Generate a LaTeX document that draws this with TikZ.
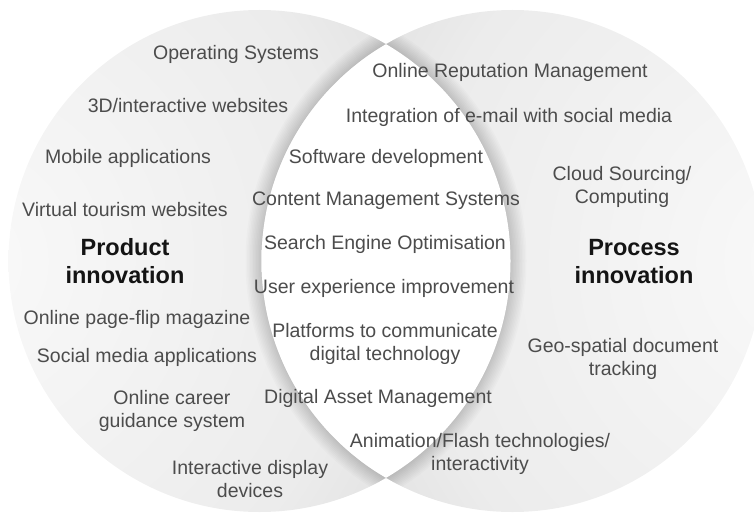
\documentclass[tikz,border=0pt]{standalone}
\usepackage{fontspec}
\setmainfont{Liberation Sans}
\definecolor{itemcol}{HTML}{4C4C4C}
\definecolor{titlecol}{HTML}{141414}
\definecolor{sa}{gray}{0.98}
\definecolor{sb}{gray}{0.965}
\definecolor{sc}{gray}{0.925}
\definecolor{sd}{gray}{0.85}
\definecolor{se}{gray}{0.78}
\definecolor{sf}{gray}{0.67}
\definecolor{sg}{gray}{0.60}
\pgfdeclareradialshading{crescent}{\pgfpoint{0bp}{0bp}}{color(0bp)=(sa); color(4.5bp)=(sb); color(17.9bp)=(sc); color(26.8bp)=(sd); color(34.8bp)=(se); color(42bp)=(sf); color(50bp)=(sg)}
\begin{document}
\begin{tikzpicture}[x=1pt,y=-1pt,
  item/.style={text=itemcol, font=\fontsize{19.5}{23.5}\selectfont, align=center, inner sep=0pt},
  title/.style={text=titlecol, font=\bfseries\fontsize{23.5}{28}\selectfont, align=center, inner sep=0pt},
  lensshadow/.style={black, opacity=0.016}]
\useasboundingbox (0,0) rectangle (754,513);
\clip (0,0) rectangle (754,513);
\coordinate (CL) at (259.5,261);
\coordinate (CR) at (512.5,261);
\begin{scope}
  \clip (CL) circle[radius=251pt];
  \shade[shading=crescent] (-41.5,261) circle[radius=560pt];
  \foreach \w in {32,29,...,2} \draw[lensshadow, line width=\w pt] (CR) circle[radius=251pt];
\end{scope}
\begin{scope}
  \clip (CR) circle[radius=251pt];
  \shade[shading=crescent] (813.5,261) circle[radius=560pt];
  \foreach \w in {32,29,...,2} \draw[lensshadow, line width=\w pt] (CL) circle[radius=251pt];
\end{scope}
\begin{scope}
  \clip (CL) circle[radius=251pt];
  \fill[white] (CR) circle[radius=251pt];
\end{scope}

\node[title] (prod) at (125,261) {Product\\innovation};
\node[title] (proc) at (634,262) {Process\\innovation};

\node[item] (os) at (236,54) {Operating Systems};
\node[item] (web3d) at (188,106) {3D/interactive websites};
\node[item] (mob) at (128,158) {Mobile applications};
\node[item] (vt) at (125,210) {Virtual tourism websites};
\node[item] (flip) at (137,319) {Online page-flip magazine};
\node[item] (sma) at (147,357) {Social media applications};
\node[item] (career) at (172,411) {Online career\\guidance system};
\node[item] (disp) at (250,479) {Interactive display\\devices};

\node[item] (orm) at (510,72) {Online Reputation Management};
\node[item] (email) at (509,117) {Integration of e-mail with social media};
\node[item] (sw) at (386,158) {Software development};
\node[item] (cms) at (386,201) {Content Management Systems};
\node[item] (seo) at (385,244) {Search Engine Optimisation};
\node[item] (ux) at (384,288) {User experience improvement};
\node[item] (plat) at (385,344) {Platforms to communicate\\digital technology};
\node[item] (dam) at (378,398) {Digital Asset Management};
\node[item] (anim) at (480,454) {Animation/Flash technologies/\\interactivity};

\node[item] (cloud) at (622,187) {Cloud Sourcing/\\Computing};
\node[item] (geo) at (623,359) {Geo-spatial document\\tracking};
\end{tikzpicture}
\end{document}
